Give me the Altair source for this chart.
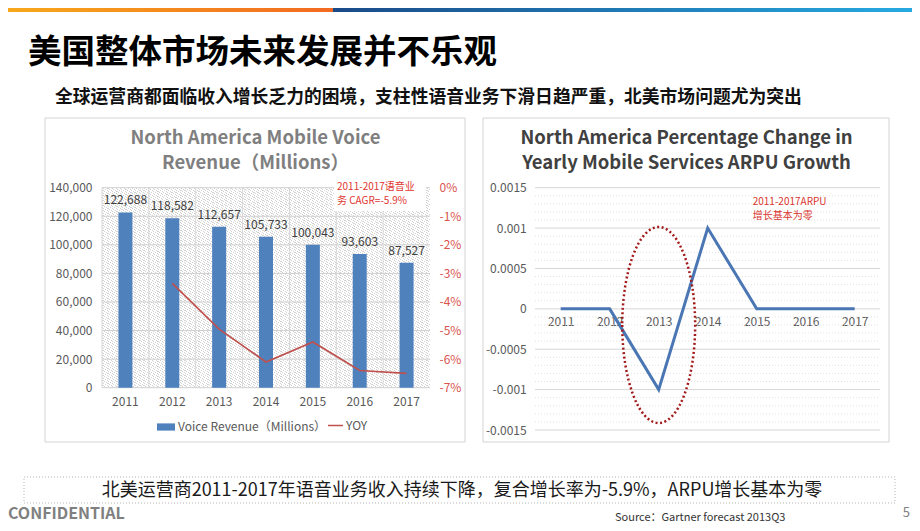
import altair as alt
import pandas as pd

# ---------------- data ----------------
years = ['2011', '2012', '2013', '2014', '2015', '2016', '2017']
voice_revenue = [122688, 118582, 112657, 105733, 100043, 93603, 87527]
yoy_pct = [None, -3.35, -4.95, -6.1, -5.4, -6.4, -6.5]
arpu_change = [0, 0, -0.001, 0.001, 0, 0, 0]

revenue_ticks = [0, 20000, 40000, 60000, 80000, 100000, 120000, 140000]
yoy_ticks = [0, -1, -2, -3, -4, -5, -6, -7]
arpu_ticks = [-0.0015, -0.001, -0.0005, 0, 0.0005, 0.001, 0.0015]
arpu_minor_ticks = [round(k * 0.0001, 4) for k in range(-15, 16) if k % 5 != 0]

bar_series = 'Voice Revenue（Millions）'
line_series = 'YOY'
ellipse_year = ['2013']
ellipse_value = [-0.0002]

page_title = '美国整体市场未来发展并不乐观'
page_subtitle = '全球运营商都面临收入增长乏力的困境，支柱性语音业务下滑日趋严重，北美市场问题尤为突出'
left_title = ['North America Mobile Voice', 'Revenue（Millions）']
right_title = ['North America Percentage Change in', 'Yearly Mobile Services ARPU Growth']
cagr_note = ['2011-2017语音业', '务 CAGR=-5.9%']
arpu_note = ['2011-2017ARPU', '增长基本为零']
footer_text = '北美运营商2011-2017年语音业务收入持续下降，复合增长率为-5.9%，ARPU增长基本为零'
confidential = 'CONFIDENTIAL'
source_text = 'Source：Gartner forecast 2013Q3'
page_no = '5'

# ---------------- layout / style ----------------
W, H = 904, 515
FONT = "'Noto Sans CJK SC', 'Noto Sans', sans-serif"
GRAY = '#595959'

L_X0, L_X1 = 94, 422
L_Y0, L_Y1 = 379.7, 179.7
R_X0, R_X1 = 528.2, 871.2
R_Y0, R_Y1 = 422, 179.7
R_ZERO = 300.85

LX = alt.Scale(type='band', domain=years, range=[L_X0, L_X1], paddingInner=0, paddingOuter=0)
LY = alt.Scale(domain=[0, 140000], range=[L_Y0, L_Y1], nice=False)
LY2 = alt.Scale(domain=[-7, 0], range=[L_Y0, L_Y1], nice=False)
RX = alt.Scale(type='point', domain=years, range=[R_X0, R_X1], padding=0.5)
RY = alt.Scale(domain=[-0.0015, 0.0015], range=[R_Y0, R_Y1], nice=False)

one = pd.DataFrame({'k': [0]})


def txt(s, x, y, size, color, weight='normal', align='left', baseline='middle'):
    return alt.Chart(pd.DataFrame({'t': [s]})).mark_text(
        font=FONT, fontSize=size, color=color, fontWeight=weight,
        align=align, baseline=baseline
    ).encode(x=alt.value(x), y=alt.value(y), text='t:N')


def box(x, x2, y, y2, **kw):
    return alt.Chart(one).mark_rect(**kw).encode(
        x=alt.value(x), x2=alt.value(x2), y=alt.value(y), y2=alt.value(y2))


def grad(c1, c2):
    return alt.LinearGradient(gradient='linear', x1=0, y1=0, x2=1, y2=0,
                              stops=[alt.GradientStop(offset=0, color=c1),
                                     alt.GradientStop(offset=1, color=c2)])


# hatch pattern for the left plot area
stops = []
n = 160
for i in range(n):
    a, b, c = i / n, (i + 0.28) / n, (i + 1) / n
    stops += [alt.GradientStop(offset=a, color='#d2d2d2'),
              alt.GradientStop(offset=b, color='#d2d2d2'),
              alt.GradientStop(offset=b, color='#ffffff'),
              alt.GradientStop(offset=c, color='#ffffff')]
hatch_fill = alt.LinearGradient(gradient='linear', x1=0, y1=1, x2=1, y2=0, stops=stops)

left_df = pd.DataFrame({'year': years, 'revenue': voice_revenue, 'yoy': yoy_pct,
                        'series': bar_series, 'line': line_series})
right_df = pd.DataFrame({'year': years, 'arpu': arpu_change})

AX = dict(title=None, domain=False, ticks=False, grid=False, labelColor=GRAY,
          labelFontSize=12, labelFont=FONT, zindex=1)

layers = []

# banner
layers.append(box(0, 325, 0, 4, fill=grad('#f7a81b', '#f26a21')))
layers.append(box(325, W, 0, 4, fill=grad('#1a4a88', '#26aae1')))

# header
layers.append(txt(page_title, 20, 45, 33.5, '#000000', 'bold'))
layers.append(txt(page_subtitle, 47, 89.5, 17.8, '#111111', 'bold'))

# panels
layers.append(box(37, 457, 110, 434, fill='white', fillOpacity=0, stroke='#d4d4d4', strokeWidth=1))
layers.append(box(475, 881, 110, 434, fill='white', fillOpacity=0, stroke='#d4d4d4', strokeWidth=1))

# left panel background + grid
layers.append(box(L_X0, L_X1, L_Y1, L_Y0, fill=hatch_fill))
layers.append(alt.Chart(pd.DataFrame({'v': revenue_ticks})).mark_rule(color='#d0d0d0', strokeWidth=1).encode(
    y=alt.Y('v:Q', scale=LY, axis=None), x=alt.value(L_X0), x2=alt.value(L_X1)))
layers.append(alt.Chart(pd.DataFrame({'year': years})).mark_rule(color='#d8d8d8', strokeWidth=1).encode(
    x=alt.X('year:N', scale=LX, bandPosition=0, axis=None), y=alt.value(L_Y1), y2=alt.value(L_Y0)))

# CAGR note
layers.append(box(326, 418, 171, 203, fill='white'))
layers.append(txt(cagr_note[0], 329, 178.5, 10, '#e0342e'))
layers.append(txt(cagr_note[1], 329, 192.5, 10, '#e0342e'))

# bars
bars = alt.Chart(left_df).mark_bar(size=14).encode(
    x=alt.X('year:N', scale=LX, axis=alt.Axis(
        orient='bottom', offset=L_Y0 - H, labelAngle=0, labelPadding=9, **AX)),
    y=alt.Y('revenue:Q', scale=LY, axis=alt.Axis(
        orient='left', offset=-L_X0, values=revenue_ticks,
        labelExpr="format(datum.value, ',')", labelPadding=10, **AX)),
    color=alt.Color('series:N', scale=alt.Scale(domain=[bar_series], range=['#4f81bd']),
                    legend=alt.Legend(orient='none', legendX=148, legendY=409, title=None,
                                      symbolType='M-1,-0.4H1V0.4H-1Z', symbolSize=324,
                                      labelFontSize=12, labelColor=GRAY, labelFont=FONT,
                                      labelOffset=2, padding=0)),
)
layers.append(bars)

bar_labels = alt.Chart(left_df).mark_text(baseline='bottom', dy=-5, font=FONT, fontSize=12,
                                          color='#404040').encode(
    x=alt.X('year:N', scale=LX, axis=None),
    y=alt.Y('revenue:Q', scale=LY, axis=None),
    text=alt.Text('revenue:Q', format=','))
layers.append(bar_labels)

yoy_line = alt.Chart(left_df.dropna(subset=['yoy'])).mark_line(strokeWidth=1.6).encode(
    x=alt.X('year:N', scale=LX, axis=None),
    y=alt.Y('yoy:Q', scale=LY2, axis=alt.Axis(
        orient='right', offset=L_X1 - W, values=yoy_ticks, labelExpr="datum.value + '%'",
        labelPadding=9, **{**AX, 'labelColor': '#d9534f'})),
    stroke=alt.Stroke('line:N', scale=alt.Scale(domain=[line_series], range=['#c0504d']),
                      legend=alt.Legend(orient='none', legendX=319, legendY=409, title=None,
                                        symbolType='stroke', symbolSize=225, symbolStrokeWidth=1.5,
                                        labelFontSize=12, labelColor=GRAY, labelFont=FONT,
                                        labelOffset=2, padding=0)),
)
layers.append(yoy_line)

# left title
layers.append(txt(left_title[0], 247.5, 129.7, 18.5, '#7f7f7f', 'bold', 'center'))
layers.append(txt(left_title[1], 247.5, 155.3, 18.5, '#7f7f7f', 'bold', 'center'))

# right panel grid
layers.append(alt.Chart(pd.DataFrame({'v': arpu_minor_ticks})).mark_rule(
    color='#e2e2e2', strokeWidth=1, strokeDash=[1, 2]).encode(
    y=alt.Y('v:Q', scale=RY, axis=None), x=alt.value(527), x2=alt.value(872)))
layers.append(alt.Chart(pd.DataFrame({'v': arpu_ticks})).mark_rule(color='#d6d6d6', strokeWidth=1).encode(
    y=alt.Y('v:Q', scale=RY, axis=None), x=alt.value(527), x2=alt.value(872)))

arpu_line = alt.Chart(right_df).mark_line(strokeWidth=3, color='#4a76b4').encode(
    x=alt.X('year:N', scale=RX, axis=alt.Axis(
        orient='bottom', offset=R_ZERO - H, labelAngle=0, labelPadding=8, **{**AX, 'zindex': 0})),
    y=alt.Y('arpu:Q', scale=RY, axis=alt.Axis(
        orient='left', offset=-R_X0, values=arpu_ticks, labelExpr="datum.value + ''",
        labelPadding=10, **AX)),
)
layers.append(arpu_line)

ellipse = alt.Chart(pd.DataFrame({'year': ellipse_year, 'v': ellipse_value})).mark_point(
    shape='M-0.372,0A0.372,1 0 1,0 0.372,0A0.372,1 0 1,0 -0.372,0Z',
    size=196 * 196, filled=False, opacity=1, stroke='#a31a1a', strokeWidth=2.5,
    strokeDash=[2, 2.5]).encode(
    x=alt.X('year:N', scale=RX, axis=None), y=alt.Y('v:Q', scale=RY, axis=None))
layers.append(ellipse)

layers.append(txt(arpu_note[0], 744.7, 193.5, 10, '#d9342e'))
layers.append(txt(arpu_note[1], 744.7, 207.5, 10, '#d9342e'))

layers.append(txt(right_title[0], 678.5, 129.7, 18.5, '#404040', 'bold', 'center'))
layers.append(txt(right_title[1], 678.5, 155.3, 18.5, '#404040', 'bold', 'center'))

# footer
layers.append(box(16, 887, 469, 495, fill='white', stroke='#b5b5b5', strokeWidth=1, strokeDash=[1, 2]))
layers.append(txt(footer_text, 454, 483, 18, '#1a1a1a', 'normal', 'center'))
layers.append(txt(confidential, 0, 506, 16, '#808080', 'bold'))
layers.append(txt(source_text, 607, 510, 11, '#333333'))
layers.append(txt(page_no, 902, 505, 13, '#808080', 'normal', 'right'))

chart = alt.layer(*layers).resolve_scale(
    x='independent', y='independent', color='independent', stroke='independent'
).resolve_axis(x='independent', y='independent').properties(
    width=W, height=H, padding=0, autosize=alt.AutoSizeParams(type='none')
).configure_view(stroke=None)

chart.save('out.html', embed_options={'renderer': 'svg', 'actions': False})
